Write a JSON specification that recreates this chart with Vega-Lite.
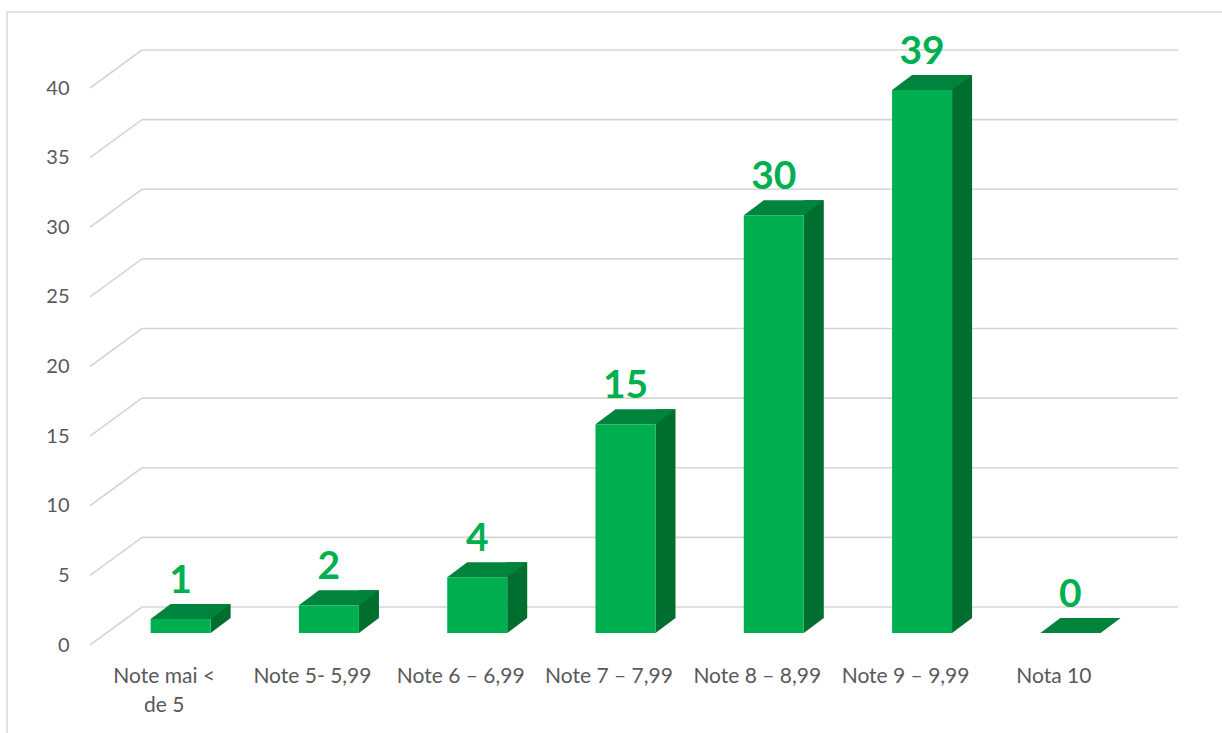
{
  "$schema": "https://vega.github.io/schema/vega-lite/v6.json",
  "width": 1216,
  "height": 722,
  "autosize": {"type": "none"},
  "padding": {"left": 7, "top": 12, "right": 0, "bottom": 0},
  "background": "white",
  "config": {"view": {"stroke": "#D9D9D9", "strokeWidth": 1.5}, "font": "Lato"},
  "datasets": {
    "notes": [
      {"categorie": "Note mai < de 5", "numar": 1},
      {"categorie": "Note 5- 5,99", "numar": 2},
      {"categorie": "Note 6 – 6,99", "numar": 4},
      {"categorie": "Note 7 – 7,99", "numar": 15},
      {"categorie": "Note 8 – 8,99", "numar": 30},
      {"categorie": "Note 9 – 9,99", "numar": 39},
      {"categorie": "Nota 10", "numar": 0}
    ],
    "grid": [{"v": 0}, {"v": 5}, {"v": 10}, {"v": 15}, {"v": 20}, {"v": 25}, {"v": 30}, {"v": 35}, {"v": 40}]
  },
  "layer": [
    {
      "data": {"name": "grid"},
      "mark": {"type": "rule", "color": "#D6D6D6", "strokeWidth": 1.6, "xOffset": -74.15, "x2Offset": -22.15, "y2Offset": -38},
      "encoding": {
        "x": {"datum": "Note mai < de 5", "type": "nominal"},
        "x2": {"datum": "Note mai < de 5"},
        "y": {"field": "v", "type": "quantitative"},
        "y2": {"field": "v"}
      }
    },
    {
      "data": {"name": "grid"},
      "mark": {"type": "rule", "color": "#D6D6D6", "strokeWidth": 1.6, "xOffset": -22.15, "x2Offset": 124, "yOffset": -38, "y2Offset": -38},
      "encoding": {
        "x": {"datum": "Note mai < de 5", "type": "nominal"},
        "x2": {"datum": "Nota 10"},
        "y": {"field": "v", "type": "quantitative"},
        "y2": {"field": "v"}
      }
    },
    {
      "data": {"name": "notes"},
      "mark": {"type": "bar", "width": 20, "color": "#006E2E", "xOffset": 56.5, "yOffset": -27, "y2Offset": -27, "strokeWidth": 0},
      "encoding": {
        "x": {"field": "categorie", "type": "nominal"},
        "y": {"field": "numar", "type": "quantitative"}
      }
    },
    {
      "data": {"name": "notes"},
      "mark": {"type": "point", "shape": "M0,0L0,-0.375L0.5,-0.375Z", "size": 6400, "filled": true, "opacity": 1, "color": "#006E2E", "strokeWidth": 0, "xOffset": 46.5, "yOffset": -12},
      "encoding": {
        "x": {"field": "categorie", "type": "nominal"},
        "y": {"datum": 0, "type": "quantitative"}
      }
    },
    {
      "data": {"name": "notes"},
      "mark": {"type": "point", "shape": "M-1,0L-0.5,-0.375L1,-0.375L0.5,0Z", "size": 6400, "filled": true, "opacity": 1, "color": "#00843D", "strokeWidth": 0, "xOffset": 26.5, "yOffset": -12},
      "encoding": {
        "x": {"field": "categorie", "type": "nominal"},
        "y": {"field": "numar", "type": "quantitative"}
      }
    },
    {
      "data": {"name": "notes"},
      "mark": {"type": "bar", "width": 60, "color": "#00B050", "xOffset": 16.5, "yOffset": -12, "y2Offset": -12, "strokeWidth": 0},
      "encoding": {
        "x": {
          "field": "categorie",
          "type": "nominal",
          "scale": {
            "domain": ["Note mai < de 5", "Note 5- 5,99", "Note 6 – 6,99", "Note 7 – 7,99", "Note 8 – 8,99", "Note 9 – 9,99", "Nota 10"],
            "range": [83, 1121],
            "paddingInner": 0,
            "paddingOuter": 0
          },
          "axis": {
            "title": null,
            "orient": "bottom",
            "offset": -89,
            "ticks": false,
            "domain": false,
            "grid": false,
            "labelAngle": 0,
            "labelAlign": "center",
            "labelBaseline": "top",
            "labelPadding": 20,
            "labelFont": "Lato",
            "labelFontSize": 21,
            "labelColor": "#595959",
            "labelLineHeight": 29,
            "labelLimit": 0,
            "labelExpr": "datum.value == 'Note mai < de 5' ? ['Note mai <', 'de 5'] : datum.label"
          }
        },
        "y": {
          "field": "numar",
          "type": "quantitative",
          "scale": {"domain": [0, 40], "range": [633, 76], "nice": false, "zero": true},
          "axis": {
            "title": null,
            "values": [0, 5, 10, 15, 20, 25, 30, 35, 40],
            "offset": -83,
            "ticks": false,
            "domain": false,
            "grid": false,
            "labelPadding": 21,
            "labelFont": "Lato",
            "labelFontSize": 20,
            "labelColor": "#595959"
          }
        }
      }
    },
    {
      "data": {"name": "notes"},
      "mark": {"type": "text", "font": "Lato", "fontWeight": "bold", "fontSize": 39, "color": "#00B050", "baseline": "alphabetic", "align": "center", "xOffset": 16.5, "yOffset": -38},
      "encoding": {
        "x": {"field": "categorie", "type": "nominal"},
        "y": {"field": "numar", "type": "quantitative"},
        "text": {"field": "numar", "type": "quantitative"}
      }
    }
  ]
}
